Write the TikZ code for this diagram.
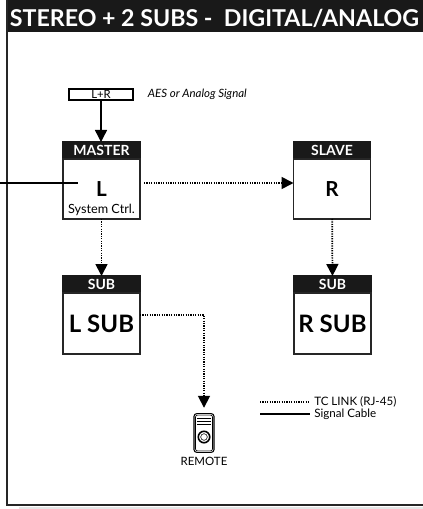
\documentclass[tikz,border=0pt]{standalone}
\usepackage{fontspec}
\setmainfont{Lato}
\usetikzlibrary{arrows.meta,positioning}

\begin{document}
\begin{tikzpicture}[x=0.75pt, y=-0.75pt,
	unithead/.style={fill=black!90, draw=black!90, text=white, line width=1.1pt, outer sep=0pt, inner sep=0pt, minimum width=57.75pt, minimum height=12.75pt, font=\fontsize{10.5}{11}\selectfont\bfseries},
	unitbody/.style={draw=black!85, line width=1.1pt, outer sep=0pt, inner sep=0pt, minimum width=57.75pt, font=\fontsize{15.5}{17}\selectfont\bfseries},
	tclink/.style={line width=1.3pt, dash pattern=on 0.9pt off 0.9pt},
	sigcable/.style={line width=1.1pt},
	tip/.style={-{Triangle[length=9pt,width=9pt]}},
	legend/.style={font=\fontsize{8.7}{9}\selectfont, inner sep=0pt}]
		\useasboundingbox (0,0) rectangle (423,509);
		\fill[black!10] (19,506.5) rectangle (423,509);
		\fill[black!90] (6,0) rectangle (423,32);
		\draw[line width=1.5pt, black!85] (7,0) -- (7,505) -- (423,505);
		\node[text=white, anchor=base, font=\fontsize{17.4}{20}\selectfont\bfseries] (title) at (214.5,27) {STEREO + 2 SUBS -\ \ DIGITAL/ANALOG};

		\node[draw, line width=0.9pt, outer sep=0pt, inner sep=0pt, minimum width=48pt, minimum height=8.25pt, font=\fontsize{8.5}{8}\selectfont] (lr) at (101,94.5) {L+R};
		\node[right=11pt of lr, inner sep=0pt, font=\fontsize{8.6}{9}\selectfont\itshape] (aes) {AES or Analog Signal};

		\node[unithead] (mhead) at (101.5,150.5) {MASTER};
		\node[unitbody, minimum height=45pt, below=0pt of mhead] (master) {L};
		\node[above=1pt of master.south, inner sep=1pt, font=\fontsize{9.5}{11}\selectfont] (mctrl) {System Ctrl.};
		\node[unithead] (shead) at (332,150.5) {SLAVE};
		\node[unitbody, minimum height=45pt, below=0pt of shead] (slave) {R};

		\node[unithead] (lsubhead) at (101.5,284.5) {SUB};
		\node[unitbody, minimum height=45.75pt, below=0pt of lsubhead, font=\fontsize{18}{20}\selectfont\bfseries] (lsub) {L SUB};
		\node[unithead] (rsubhead) at (332.5,284.5) {SUB};
		\node[unitbody, minimum height=45.75pt, below=0pt of rsubhead, font=\fontsize{18}{20}\selectfont\bfseries] (rsub) {R SUB};

		\node[draw, rounded corners=2pt, line width=0.8pt, inner sep=0pt, minimum width=15pt, minimum height=29pt] (remote) at (204,433) {};
		\draw[line width=0.5pt, rounded corners=1.5pt] ([xshift=1.5pt,yshift=-1.5pt]remote.north west) rectangle ([xshift=-1.5pt,yshift=1.5pt]remote.south east);
		\draw[line width=0.8pt] ([xshift=2.5pt,yshift=-4pt]remote.north west) -- ([xshift=-2.5pt,yshift=-4pt]remote.north east);
		\draw[line width=0.8pt] ([xshift=2.5pt,yshift=-6pt]remote.north west) -- ([xshift=-2.5pt,yshift=-6pt]remote.north east);
		\draw[line width=0.4pt] ([xshift=2.5pt,yshift=-8pt]remote.north west) -- ([xshift=-2.5pt,yshift=-8pt]remote.north east);
		\draw[line width=1.2pt] ([yshift=-3pt]remote.center) circle (4.3pt);
		\draw[line width=0.4pt] ([yshift=-3pt]remote.center) circle (2.5pt);
		\node[below=2pt of remote, inner sep=1pt, font=\fontsize{8.6}{10}\selectfont] (remlabel) {REMOTE};

		\coordinate (sigin) at (0,183);
		\coordinate (sigend) at (78,183);
		\draw[sigcable] (sigin) -- (sigend);
		\draw[sigcable, tip] (lr.south) -- (lr.south |- mhead.north);
		\draw[tclink, tip, shorten <=3pt] ([yshift=4.5pt]master.east) -- ([yshift=4.5pt]slave.west);
		\draw[tclink, tip] (master) -- (lsubhead);
		\draw[tclink, tip] (slave) -- (rsubhead);
		\draw[tclink, tip, shorten >=4pt] ([yshift=6.4pt]lsub.east) -| (remote.north);

		\coordinate (tcA) at (260,402);
		\coordinate (tcB) at (310,402);
		\coordinate (sigA) at (260,414);
		\coordinate (sigB) at (310,414);
		\draw[tclink] (tcA) -- (tcB);
		\draw[sigcable] (sigA) -- (sigB);
		\node[legend, right=3pt of tcB] (tctext) {TC LINK (RJ-45)};
		\node[legend, right=3pt of sigB] (sigtext) {Signal Cable};
	\end{tikzpicture}
\end{document}
